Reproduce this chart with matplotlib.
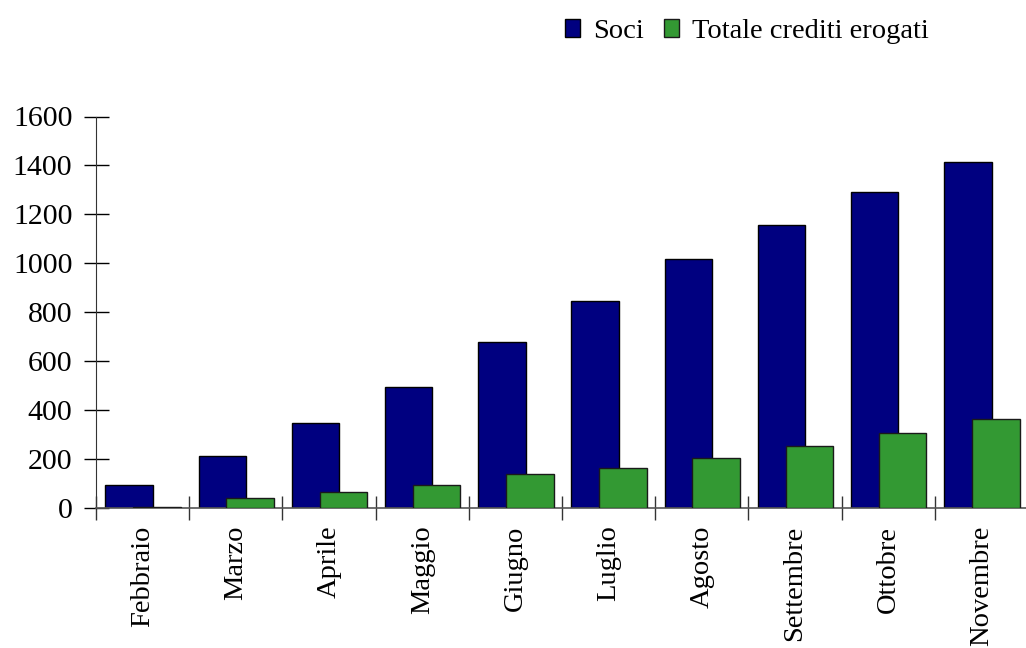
import matplotlib.pyplot as plt
import numpy as np

# monthly figures
mesi = ['Febbraio', 'Marzo', 'Aprile', 'Maggio', 'Giugno', 'Luglio',
        'Agosto', 'Settembre', 'Ottobre', 'Novembre']
soci = [92, 211, 345, 492, 676, 845, 1017, 1156, 1290, 1412]
crediti = [4, 40, 62, 93, 136, 160, 201, 250, 305, 363]

plt.rcParams['font.family'] = ['Liberation Serif', 'DejaVu Serif']
plt.rcParams['font.size'] = 21.5

fig = plt.figure(figsize=(10.26, 6.48), dpi=100)
ax = fig.add_axes([96 / 1026, 140.5 / 648, 932 / 1026, 391 / 648])

x = np.arange(len(mesi))
barWidth = 0.51

ax.bar(x - 0.145, soci, width=barWidth, color='#000080',
       edgecolor='black', linewidth=1, label='Soci', zorder=2)
ax.bar(x + 0.155, crediti, width=barWidth, color='#339933',
       edgecolor='#1a1a1a', linewidth=1, label='Totale crediti erogati', zorder=3)

ax.set_xlim(-0.5, len(mesi) - 0.5)
ax.set_ylim(0, 1600)
ax.set_yticks(np.arange(0, 1601, 200))

# month names centred, tick marks on the boundaries between months
ax.set_xticks(x)
ax.set_xticklabels(mesi, rotation=90, va='top', ha='center', fontsize=20.5)
ax.set_xticks(np.arange(-0.5, len(mesi)), minor=True)
ax.tick_params(axis='x', which='major', length=0, pad=13)
ax.tick_params(axis='x', which='minor', direction='inout', length=17,
               width=1, color='#333333')
ax.tick_params(axis='y', direction='inout', length=18, width=1, pad=8)

for side in ['top', 'right']:
    ax.spines[side].set_visible(False)
ax.spines['left'].set_color('#333333')
ax.spines['bottom'].set_color('#555555')
ax.spines['bottom'].set_linewidth(1.2)

fig.legend(loc='upper right', bbox_to_anchor=(929 / 1026, 1 - 19 / 648),
           ncol=2, frameon=False, borderpad=0, borderaxespad=0,
           fontsize=20.5, handlelength=0.55, handleheight=0.55,
           handletextpad=0.45, columnspacing=0.7)

plt.savefig('out.png', dpi=100)
